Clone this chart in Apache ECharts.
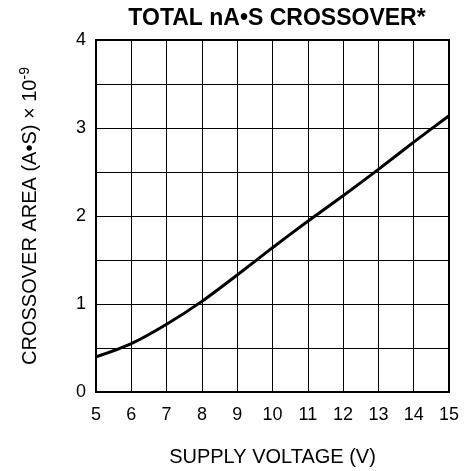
<!DOCTYPE html>
<html>
<head>
<meta charset="utf-8">
<script src="https://cdn.jsdelivr.net/npm/echarts@6/dist/echarts.min.js"></script>
<style>
  html, body { margin: 0; padding: 0; background: #fff; }
  #chart { width: 465px; height: 471px; }
</style>
</head>
<body>
<div id="chart"></div>
<script>
// supply voltage (V)
var voltage = [5, 6, 7, 8, 9, 10, 11, 12, 13, 14, 15];
// crossover area (A*S) x 1e-9
var area = [0.40, 0.55, 0.77, 1.03, 1.33, 1.64, 1.94, 2.23, 2.53, 2.84, 3.14];

var points = voltage.map(function (v, i) { return [v, area[i]]; });
var font = 'Liberation Sans, Arial, sans-serif';

var chart = echarts.init(document.getElementById('chart'));
chart.setOption({
    animation: false,
    title: {
        text: 'TOTAL nA\u2022S CROSSOVER*',
        left: 272,
        textAlign: 'center',
        top: 2,
        textStyle: { fontFamily: font, fontSize: 23, fontWeight: 'bold', color: '#000' }
    },
    grid: {
        left: 96, right: 16, top: 40, bottom: 79,
        outerBoundsMode: 'none',
        show: true, borderColor: '#000', borderWidth: 2
    },
    xAxis: {
        type: 'value',
        min: 5, max: 15, interval: 1,
        name: 'SUPPLY VOLTAGE (V)',
        nameLocation: 'middle',
        nameGap: 55,
        nameTextStyle: { fontFamily: font, fontSize: 20, color: '#000' },
        axisLine: { lineStyle: { color: '#000', width: 2 } },
        axisTick: { show: false },
        axisLabel: { fontFamily: font, fontSize: 18, color: '#000', margin: 14 },
        splitLine: { lineStyle: { color: '#000', width: 1 } }
    },
    yAxis: {
        type: 'value',
        min: 0, max: 4, interval: 0.5,
        name: 'CROSSOVER AREA (A\u2022S) \u00d7 10{sup|-9}',
        nameLocation: 'middle',
        nameGap: 54,
        nameTextStyle: {
            fontFamily: font, fontSize: 20, color: '#000',
            rich: { sup: { fontFamily: font, fontSize: 14, color: '#000', verticalAlign: 'bottom', padding: [0, 0, 10, 0] } }
        },
        axisLine: { lineStyle: { color: '#000', width: 2 } },
        axisTick: { show: false },
        axisLabel: {
            fontFamily: font, fontSize: 18, color: '#000', margin: 10,
            formatter: function (v) { return v % 1 === 0 ? String(v) : ''; }
        },
        splitLine: { lineStyle: { color: '#000', width: 1 } }
    },
    series: [{
        type: 'line',
        data: points,
        smooth: 0.3,
        showSymbol: false,
        lineStyle: { color: '#000', width: 3 }
    }]
});
</script>
</body>
</html>
